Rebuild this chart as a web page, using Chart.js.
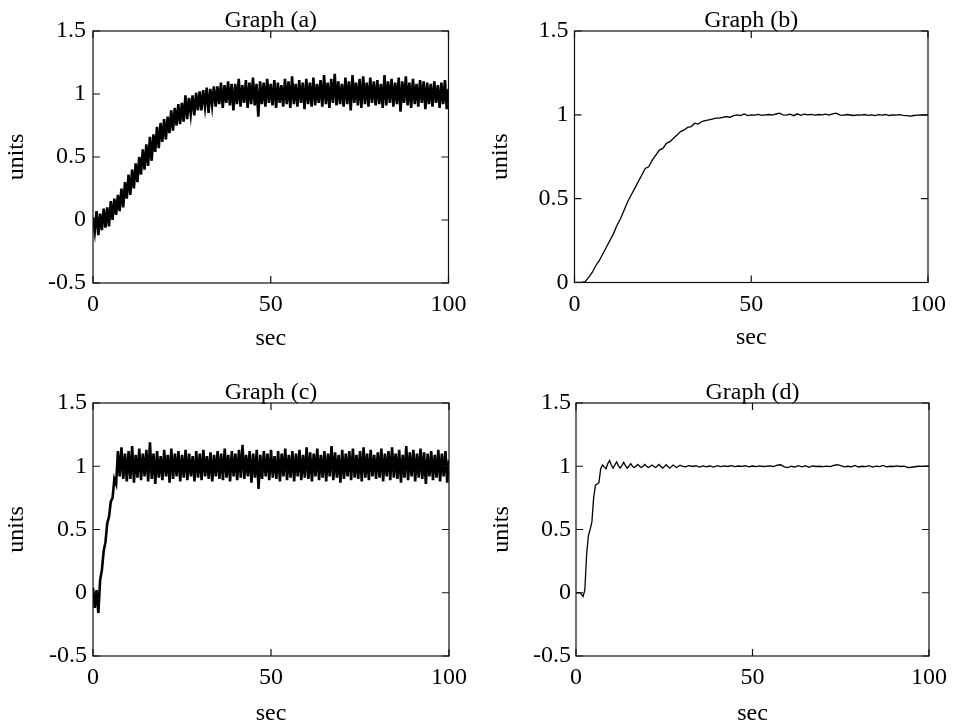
<!DOCTYPE html>
<html>
<head>
<meta charset="utf-8">
<title>Graphs (a)-(d)</title>
<script src="https://cdn.jsdelivr.net/npm/chart.js@4.4.1/dist/chart.umd.min.js"></script>
<style>
    body { margin: 0; background: #fff; }
    #wrap { position: relative; width: 954px; height: 727px; background: #fff; }
    canvas { position: absolute; }
</style>
</head>
<body>
<div id="wrap">
    <canvas id="chartA" width="477" height="364" style="left:0;top:0"></canvas>
    <canvas id="chartB" width="477" height="364" style="left:477px;top:0"></canvas>
    <canvas id="chartC" width="477" height="363" style="left:0;top:364px"></canvas>
    <canvas id="chartD" width="477" height="363" style="left:477px;top:364px"></canvas>
</div>
<script>
// tick labels
const xTicks = [0, 50, 100];
const yTicksFull = [-0.5, 0, 0.5, 1, 1.5];
const yTicksB = [0, 0.5, 1, 1.5];

// Graph (a): noisy slow rise, sampled every 0.5 s
const yA = [
    0.02, -0.09, 0.07, -0.12, 0.05, -0.08, 0.09, -0.06, 0.1, -0.05,
    0.15, 0.0, 0.17, 0.04, 0.2, 0.07, 0.25, 0.1, 0.3, 0.17,
    0.36, 0.2, 0.4, 0.25, 0.45, 0.3, 0.5, 0.36, 0.56, 0.4,
    0.6, 0.43, 0.66, 0.47, 0.68, 0.54, 0.74, 0.57, 0.77, 0.62,
    0.8, 0.64, 0.82, 0.69, 0.87, 0.71, 0.89, 0.75, 0.92, 0.76,
    0.93, 0.78, 0.99, 0.8, 0.97, 0.84, 0.99, 0.83, 1.01, 0.87,
    1.02, 0.87, 1.03, 0.9, 1.05, 0.85, 1.04, 0.91, 1.06, 0.9,
    1.06, 0.92, 1.09, 0.89, 1.07, 0.93, 1.1, 0.91, 1.08, 0.87,
    1.08, 0.92, 1.12, 0.9, 1.07, 0.93, 1.11, 0.89, 1.09, 0.92,
    1.13, 0.91, 1.08, 0.82, 1.1, 0.92, 1.09, 0.9, 1.12, 0.93,
    1.08, 0.91, 1.11, 0.89, 1.09, 0.93, 1.07, 0.9, 1.12, 0.92,
    1.1, 0.89, 1.14, 0.92, 1.08, 0.9, 1.11, 0.93, 1.09, 0.88,
    1.12, 0.92, 1.09, 0.9, 1.13, 0.91, 1.08, 0.93, 1.11, 0.9,
    1.15, 0.92, 1.09, 0.89, 1.12, 0.93, 1.16, 0.91, 1.1, 0.92,
    1.08, 0.9, 1.13, 0.92, 1.1, 0.87, 1.15, 0.93, 1.09, 0.91,
    1.12, 0.89, 1.14, 0.92, 1.09, 0.9, 1.13, 0.93, 1.1, 0.91,
    1.11, 0.92, 1.08, 0.89, 1.15, 0.91, 1.1, 0.93, 1.12, 0.9,
    1.09, 0.92, 1.13, 0.86, 1.1, 0.93, 1.14, 0.91, 1.09, 0.89,
    1.12, 0.92, 1.08, 0.9, 1.11, 0.93, 1.1, 0.88, 1.09, 0.92,
    1.08, 0.9, 1.1, 0.93, 1.07, 0.89, 1.09, 0.92, 1.11, 0.88,
    1.04
];

// Graph (b): smooth slow rise, sampled every 1 s
const yB = [
    0, 0, 0, 0.005, 0.03, 0.06, 0.1, 0.13, 0.17, 0.21,
    0.25, 0.29, 0.34, 0.38, 0.43, 0.48, 0.52, 0.56, 0.6, 0.64,
    0.68, 0.69, 0.73, 0.76, 0.79, 0.8, 0.83, 0.84, 0.86, 0.88,
    0.9, 0.91, 0.925, 0.93, 0.95, 0.945, 0.96, 0.965, 0.97, 0.975,
    0.98, 0.98, 0.985, 0.99, 0.985, 0.995, 1.0, 0.995, 1.005, 0.995,
    1.0, 0.998, 1.003, 0.997, 1.0, 1.002, 0.998, 1.005, 1.01, 1.0,
    0.998, 1.004, 0.995, 1.006, 0.997, 1.004, 1.0, 1.003, 0.998, 1.002,
    1.0, 1.004, 0.998, 1.006, 1.01, 1.0, 0.997, 1.002, 0.999, 0.996,
    1.0, 0.998, 1.002, 0.997, 1.0, 0.995, 1.001, 0.998, 1.002, 0.996,
    1.0, 0.998, 1.001, 0.997, 0.995, 0.992, 0.996, 0.998, 1.0, 0.998,
    1.0
];

// Graph (c): noisy fast rise, sampled every 0.5 s
const yC = [
    0.04, -0.12, 0.02, -0.16, 0.1, 0.18, 0.33, 0.4, 0.55, 0.6,
    0.72, 0.75, 0.9, 0.86, 1.12, 0.92, 1.15, 0.9, 1.1, 0.88,
    1.12, 0.9, 1.16, 0.87, 1.09, 0.91, 1.14, 0.89, 1.1, 0.92,
    1.13, 0.88, 1.19, 0.9, 1.1, 0.86, 1.12, 0.91, 1.08, 0.89,
    1.13, 0.92, 1.09, 0.87, 1.14, 0.9, 1.1, 0.92, 1.12, 0.88,
    1.09, 0.91, 1.13, 0.89, 1.1, 0.92, 1.08, 0.88, 1.12, 0.91,
    1.1, 0.89, 1.13, 0.92, 1.08, 0.9, 1.11, 0.88, 1.09, 0.92,
    1.12, 0.9, 1.1, 0.89, 1.14, 0.91, 1.09, 0.88, 1.12, 0.92,
    1.1, 0.89, 1.13, 0.91, 1.17, 0.9, 1.09, 0.92, 1.12, 0.87,
    1.1, 0.91, 1.13, 0.82, 1.09, 0.9, 1.12, 0.92, 1.1, 0.89,
    1.13, 0.91, 1.08, 0.9, 1.12, 0.88, 1.1, 0.92, 1.14, 0.89,
    1.09, 0.91, 1.12, 0.88, 1.1, 0.92, 1.13, 0.89, 1.09, 0.91,
    1.15, 0.9, 1.11, 0.88, 1.1, 0.92, 1.14, 0.89, 1.09, 0.91,
    1.12, 0.88, 1.1, 0.92, 1.16, 0.89, 1.11, 0.91, 1.09, 0.87,
    1.13, 0.9, 1.1, 0.92, 1.12, 0.89, 1.14, 0.91, 1.09, 0.9,
    1.12, 0.88, 1.15, 0.91, 1.1, 0.89, 1.13, 0.92, 1.09, 0.9,
    1.11, 0.91, 1.14, 0.88, 1.1, 0.92, 1.12, 0.89, 1.15, 0.91,
    1.1, 0.9, 1.13, 0.87, 1.09, 0.91, 1.16, 0.89, 1.11, 0.92,
    1.13, 0.88, 1.1, 0.91, 1.14, 0.9, 1.11, 0.86, 1.1, 0.92,
    1.12, 0.89, 1.09, 0.91, 1.13, 0.88, 1.1, 0.92, 1.12, 0.87,
    1.05
];

// Graph (d): fast rise with ringing; 0.5 s steps up to 30 s, then 1 s
const yD = [
    0, 0, 0, -0.01, -0.03, 0.02, 0.3, 0.45, 0.5, 0.56,
    0.75, 0.85, 0.86, 0.87, 0.98, 1.01, 0.995, 0.98, 1.02, 1.045,
    1.01, 0.985, 1.01, 1.035, 1.005, 0.985, 1.005, 1.03, 1.005, 0.985,
    1.0, 1.02, 1.0, 0.99, 1.0, 1.015, 1.0, 0.99, 1.0, 1.015,
    1.0, 0.99, 0.998, 1.01, 1.0, 0.99, 1.0, 1.015, 1.0, 0.985,
    0.995, 1.012, 1.0, 0.985, 0.997, 1.01, 1.0, 0.99, 1.0, 1.008,
    1.0,
    0.995, 1.005, 0.998, 1.004, 0.993, 1.003, 0.996, 1.002, 0.994, 1.004,
    0.997, 1.003, 0.998, 1.005, 0.997, 1.002, 0.999, 1.004, 0.996, 1.002,
    0.997, 1.003, 0.998, 1.0, 1.003, 0.998, 1.008, 1.012, 0.995, 0.99,
    1.0, 0.993, 1.004, 0.996, 1.005, 0.992, 1.002, 0.998, 1.0, 0.997,
    1.001, 0.997, 1.006, 1.012, 1.004, 0.995, 1.0, 0.996, 1.007, 0.994,
    1.0, 0.997, 1.005, 0.994, 1.001, 0.997, 1.006, 0.995, 1.0, 0.998,
    1.003, 0.998, 1.001, 0.99, 0.992, 0.996, 1.0, 0.999, 1.001, 1.0
];

// sample times
function seq(a, b, step) {
    const out = [];
    for (let v = a; v <= b + 1e-9; v += step) out.push(Math.round(v * 10) / 10);
    return out;
}
const tA = seq(0, 100, 0.5);
const tB = seq(0, 100, 1);
const tC = seq(0, 100, 0.5);
const tD = seq(0, 30, 0.5).concat(seq(31, 100, 1));

function toPoints(ts, ys) {
    return ys.map((v, i) => ({ x: ts[i], y: v }));
}

const FONT = '"Liberation Serif", "Times New Roman", serif';
Chart.defaults.font.family = FONT;
Chart.defaults.color = '#000';

/**
 * 박스 테두리 + 안쪽 눈금 + 그래프 제목
 */
const framePlugin = {
    id: 'frame',
    afterDatasetsDraw(chart, args, opts) {
        const { ctx, chartArea: a, scales: { x, y } } = chart;
        ctx.save();
        ctx.strokeStyle = '#111';
        ctx.lineWidth = 1.2;
        ctx.strokeRect(a.left, a.top, a.right - a.left, a.bottom - a.top);

        ctx.beginPath();
        y.ticks.forEach(t => {
            const py = y.getPixelForValue(t.value);
            ctx.moveTo(a.left, py); ctx.lineTo(a.left + 7, py);
            ctx.moveTo(a.right, py); ctx.lineTo(a.right - 7, py);
        });
        x.ticks.forEach(t => {
            const px = x.getPixelForValue(t.value);
            ctx.moveTo(px, a.bottom); ctx.lineTo(px, a.bottom - 7);
            ctx.moveTo(px, a.top); ctx.lineTo(px, a.top + 7);
        });
        ctx.stroke();

        ctx.fillStyle = '#000';
        ctx.font = '24px ' + FONT;
        ctx.textAlign = 'center';
        ctx.textBaseline = 'alphabetic';
        ctx.fillText(opts.text, (a.left + a.right) / 2, a.top - 4);
        ctx.restore();
    }
};

const panels = [
    { id: 'chartA', title: 'Graph (a)', points: toPoints(tA, yA), lineWidth: 2.6, yMin: -0.5, yTicks: yTicksFull,
      box: { w: 477, h: 364, left: 93, right: 448.5, top: 31, bottom: 283 },
      pad: { yTick: 7, xTick: 7.5, xTitle: 10.7, yTitle: 2.5 } },
    { id: 'chartB', title: 'Graph (b)', points: toPoints(tB, yB), lineWidth: 1.3, yMin: 0, yTicks: yTicksB,
      box: { w: 477, h: 364, left: 97.5, right: 451, top: 31, bottom: 282.5 },
      pad: { yTick: 6, xTick: 7.5, xTitle: 11.7, yTitle: 9.5 } },
    { id: 'chartC', title: 'Graph (c)', points: toPoints(tC, yC), lineWidth: 2.6, yMin: -0.5, yTicks: yTicksFull,
      box: { w: 477, h: 363, left: 93, right: 449, top: 39, bottom: 292 },
      pad: { yTick: 6, xTick: 7, xTitle: -1, yTitle: 2.5 } },
    { id: 'chartD', title: 'Graph (d)', points: toPoints(tD, yD), lineWidth: 1.3, yMin: -0.5, yTicks: yTicksFull,
      box: { w: 477, h: 363, left: 99, right: 453, top: 39, bottom: 292 },
      pad: { yTick: 5, xTick: 7, xTitle: -1, yTitle: 10.5 } },
];

panels.forEach(p => {
    const b = p.box;
    new Chart(document.getElementById(p.id), {
        type: 'line',
        data: {
            datasets: [{
                data: p.points,
                borderColor: '#000',
                borderWidth: p.lineWidth,
                borderJoinStyle: 'miter',
                pointRadius: 0,
                tension: 0,
                fill: false,
            }],
        },
        options: {
            responsive: false,
            animation: false,
            events: [],
            layout: { padding: { top: b.top, right: b.w - b.right, left: 0, bottom: 0 } },
            plugins: {
                legend: { display: false },
                tooltip: { enabled: false },
                frame: { text: p.title },
            },
            scales: {
                x: {
                    type: 'linear',
                    min: 0,
                    max: 100,
                    afterBuildTicks: s => { s.ticks = xTicks.map(v => ({ value: v })); },
                    afterFit: s => { s.height = b.h - b.bottom; },
                    grid: { display: false, drawTicks: false },
                    border: { display: false },
                    ticks: { font: { size: 24 }, padding: p.pad.xTick, maxRotation: 0, autoSkip: false,
                             callback: v => String(v) },
                    title: { display: true, text: 'sec', font: { size: 24 }, padding: { top: 0, bottom: p.pad.xTitle } },
                },
                y: {
                    type: 'linear',
                    min: p.yMin,
                    max: 1.5,
                    afterBuildTicks: s => { s.ticks = p.yTicks.map(v => ({ value: v })); },
                    afterFit: s => { s.width = b.left; },
                    grid: { display: false, drawTicks: false },
                    border: { display: false },
                    ticks: { font: { size: 24 }, padding: p.pad.yTick, callback: v => String(v) },
                    title: { display: true, text: 'units', font: { size: 24 }, padding: { top: p.pad.yTitle, bottom: 0 } },
                },
            },
        },
        plugins: [framePlugin],
    });
});
</script>
</body>
</html>
